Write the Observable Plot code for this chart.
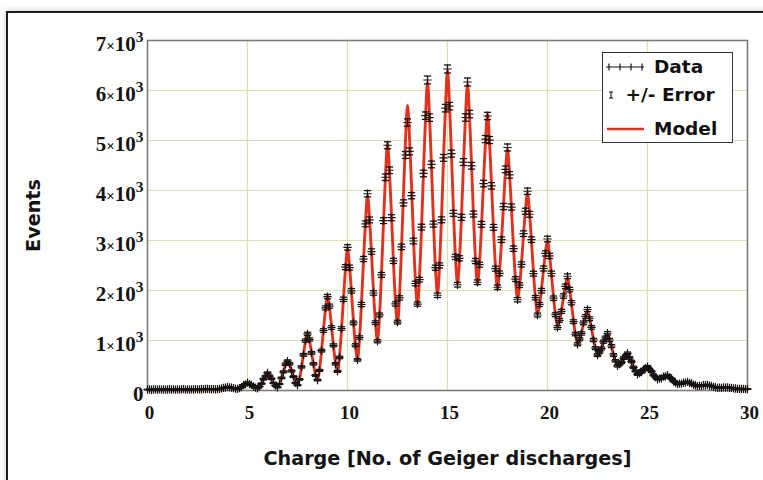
<!DOCTYPE html>
<html>
<head>
<meta charset="utf-8">
<script src="https://cdn.jsdelivr.net/npm/d3@7"></script>
<script src="https://cdn.jsdelivr.net/npm/@observablehq/plot@0.6"></script>
<style>
  html, body { margin: 0; padding: 0; background: #fff; overflow: hidden; }
  #wrap { position: relative; width: 763px; height: 480px; overflow: hidden; background: #fff; }
  #outer { position: absolute; left: 6px; top: 11px; width: 1000px; height: 1000px; border: 2px solid #1c1c1c; box-shadow: 0 0 7px rgba(0,0,0,0.22); background: #fff; }
  #chart { position: absolute; left: 0; top: 0; }
  #legend { position: absolute; left: 602px; top: 52px; width: 129px; height: 89px; border: 1.5px solid #333; background: #fff;
            font: bold 18.5px "DejaVu Sans", "Liberation Sans", Arial, sans-serif; color: #111; }
  #legend .t { position: absolute; line-height: 24px; white-space: nowrap; }
  #legend svg { position: absolute; overflow: visible; }
</style>
</head>
<body>
<div id="wrap">
  <div id="outer"></div>
  <div id="chart"></div>
  <div id="legend"></div>
</div>
<script>
// ---- Chart data (histogram bins of width 0.1, starting at charge 0) ----
const binStart = 0;
const binWidth = 0.1;

// Measured events per bin (Data)
const dataCounts = [
  18,22,15,20,24,17,21,19,23,16,
  20,25,18,22,17,24,19,21,26,18,
  22,19,24,20,26,21,23,25,28,30,
  31,27,25,29,24,26,31,41,54,59,
  74,61,57,46,38,33,49,68,107,124,
  156,126,111,80,57,44,80,137,227,285,
  352,289,235,149,96,64,130,252,373,525,
  588,533,391,277,152,106,222,472,712,998,
  1132,1021,752,534,301,209,402,798,1200,1652,
  1878,1687,1260,904,535,382,661,1240,1824,2467,
  2862,2457,1994,1352,905,612,1060,1720,2629,3332,
  3935,3412,2779,1950,1357,985,1511,2312,3397,4265,
  4905,4405,3457,2592,1731,1368,1851,2872,3752,4710,
  5360,4782,3896,2990,2140,1728,2216,3268,4341,5497,
  6210,5457,4521,3328,2456,1905,2502,3414,4652,5647,
  6430,5687,4737,3544,2672,2115,2644,3464,4569,5460,
  6170,5530,4494,3529,2589,2165,2516,3323,4139,5029,
  5490,5009,4094,3263,2436,2065,2343,3017,3679,4423,
  4860,4313,3669,2837,2228,1815,2106,2522,3137,3585,
  3985,3525,3017,2337,1856,1510,1721,1996,2440,2742,
  3030,2692,2340,1846,1516,1260,1404,1583,1890,2083,
  2285,2018,1755,1378,1129,925,1026,1142,1352,1480,
  1620,1435,1262,1010,846,708,771,840,977,1055,
  1145,1010,890,710,593,492,529,564,648,686,
  742,652,580,464,391,322,349,369,421,442,
  478,422,381,309,267,224,239,244,278,284,
  306,264,237,185,159,126,138,138,158,159,
  174,151,142,115,105,86,94,93,105,105,
  113,98,91,72,65,52,57,54,61,57,
  62,53,52,42,40,33,34,30,31,27,
  28
];

// +/- Error per bin
const dataErrors = [
  4,5,4,4,5,4,5,4,5,4,
  4,5,4,5,4,5,4,5,5,4,
  5,4,5,4,5,5,5,5,5,5,
  6,5,5,5,5,5,6,6,7,8,
  9,8,8,7,6,6,7,8,10,11,
  12,11,11,9,8,7,9,12,15,17,
  19,17,15,12,10,8,11,16,19,23,
  24,23,20,17,12,10,15,22,27,32,
  34,32,27,23,17,14,20,28,35,41,
  43,41,35,30,23,20,26,35,43,50,
  53,50,45,37,30,25,33,41,51,58,
  63,58,53,44,37,31,39,48,58,65,
  70,66,59,51,42,37,43,54,61,69,
  73,69,62,55,46,42,47,57,66,74,
  79,74,67,58,50,44,50,58,68,75,
  80,75,69,60,52,46,51,59,68,74,
  79,74,67,59,51,47,50,58,64,71,
  74,71,64,57,49,45,48,55,61,67,
  70,66,61,53,47,43,46,50,56,60,
  63,59,55,48,43,39,41,45,49,52,
  55,52,48,43,39,35,37,40,43,46,
  48,45,42,37,34,30,32,34,37,38,
  40,38,36,32,29,27,28,29,31,32,
  34,32,30,27,24,22,23,24,25,26,
  27,26,24,22,20,18,19,19,21,21,
  22,21,20,18,16,15,15,16,17,17,
  17,16,15,14,13,11,12,12,13,13,
  13,12,12,11,10,9,10,10,10,10,
  11,10,10,8,8,7,8,7,8,8,
  8,7,7,6,6,6,6,5,6,5,
  5
];

// Fitted model per bin (Model)
const modelCounts = [
  10,10,10,11,11,11,11,12,12,12,
  12,12,12,12,13,13,13,13,13,14,
  14,14,14,14,15,15,16,18,21,24,
  25,24,22,21,20,20,27,37,50,62,
  70,64,54,43,35,30,45,71,102,130,
  150,132,107,77,53,40,76,143,220,292,
  340,296,228,155,92,60,126,244,384,512,
  600,520,400,268,158,100,230,460,730,980,
  1150,1000,770,520,310,200,411,783,1221,1624,
  1900,1658,1289,885,547,370,676,1218,1852,2440,
  2840,2492,1956,1374,884,630,1037,1753,2593,3370,
  3900,3444,2741,1975,1333,1000,1486,2349,3364,4302,
  4940,4370,3500,2553,1758,1340,1878,2834,3956,4996,
  5700,5068,4100,3050,2166,1700,2245,3227,4383,5450,
  6170,5496,4475,3365,2429,1930,2475,3456,4613,5680,
  6400,5722,4697,3582,2643,2140,2618,3497,4534,5492,
  6130,5492,4534,3497,2618,2140,2542,3290,4174,4990,
  5530,4970,4134,3230,2462,2040,2366,2983,3714,4388,
  4830,4348,3634,2863,2206,1840,2081,2548,3107,3618,
  3950,3556,2983,2362,1833,1530,1697,2022,2413,2770,
  3000,2720,2313,1872,1497,1280,1384,1603,1868,2110,
  2260,2042,1732,1399,1112,940,1010,1157,1336,1498,
  1600,1454,1248,1025,834,720,760,852,966,1068,
  1130,1024,878,720,584,500,521,573,639,696,
  730,662,571,471,385,330,342,375,414,450,
  470,430,374,315,262,230,234,250,272,290,
  300,270,232,190,154,130,134,142,154,164,
  170,156,138,118,102,90,91,96,102,108,
  110,101,88,75,63,55,55,56,59,59,
  60,55,51,44,39,35,33,31,30,28,
  27
];

const xTicks = [0, 5, 10, 15, 20, 25, 30];
const yTicks = [0, 1000, 2000, 3000, 4000, 5000, 6000, 7000];
const xDomain = [0, 30];
const yDomain = [0, 7000];
const xTitle = "Charge [No. of Geiger discharges]";
const yTitle = "Events";
const legendLabels = ["Data", "+/- Error", "Model"];

// ---- Build tables ----
const binX = i => +(binStart + i * binWidth).toFixed(2);
const data = dataCounts.map((c, i) => ({x: binX(i), y: c, err: dataErrors[i]}));
const model = modelCounts.map((c, i) => ({x: binX(i), y: c}));

const RED = "#e0331f";
const INK = "#141414";
const GRID = "#dbe1b0";
const SANS = "'DejaVu Sans', 'Liberation Sans', Arial, sans-serif";

const hline = {
  draw(context, size) {
    const r = Math.sqrt(size / Math.PI);
    context.moveTo(-r, 0);
    context.lineTo(r, 0);
  }
};

const chart = Plot.plot({
  width: 763,
  height: 480,
  marginLeft: 147,
  marginRight: 16,
  marginTop: 40,
  marginBottom: 90,
  style: {fontFamily: "'Liberation Serif', 'Times New Roman', serif", fontSize: "19px", fontWeight: "bold", background: "transparent", color: INK},
  x: {domain: xDomain},
  y: {domain: yDomain},
  marks: [
    Plot.gridX({ticks: xTicks, stroke: GRID, strokeOpacity: 1, strokeWidth: 1.2}),
    Plot.gridY({ticks: yTicks, stroke: GRID, strokeOpacity: 1, strokeWidth: 1.2}),
    Plot.frame({stroke: "#7c7c7c", strokeWidth: 1.6}),
    Plot.line(model, {x: "x", y: "y", stroke: RED, strokeWidth: 2.9, curve: "monotone-x"}),
    Plot.ruleX(data, {x: "x", y1: d => d.y - d.err, y2: d => d.y + d.err, stroke: INK, strokeWidth: 1.1}),
    Plot.dot(data, {x: "x", y: d => d.y + d.err, symbol: hline, r: 3.6, stroke: INK, strokeWidth: 1.3}),
    Plot.dot(data, {x: "x", y: d => d.y - d.err, symbol: hline, r: 3.6, stroke: INK, strokeWidth: 1.3}),
    Plot.dot(data, {x: "x", y: "y", symbol: "plus", r: 2.8, stroke: INK, strokeWidth: 1.2}),
    Plot.axisX({ticks: xTicks, tickSize: 0, tickPadding: 15, label: null, dx: 2}),
    Plot.axisY({ticks: yTicks, tickSize: 0, tickPadding: 4, label: null, dy: 4,
      tickFormat: d => d === 0 ? "0" : `${d / 1000}×10|3`}),
    Plot.text([xTitle], {frameAnchor: "bottom", dy: 74, text: d => d, textAnchor: "middle",
      fontFamily: SANS, fontSize: 19.2, fontWeight: "bold", fill: INK}),
    Plot.text([yTitle], {frameAnchor: "left", dx: -114, rotate: -90, text: d => d, textAnchor: "middle",
      fontFamily: SANS, fontSize: 19.2, fontWeight: "bold", fill: INK})
  ]
});

// superscript exponents on y tick labels
const NS = "http://www.w3.org/2000/svg";
chart.querySelectorAll('g[aria-label="y-axis tick label"] text').forEach(t => {
  t.setAttribute("font-size", 21);
  t.style.fontSize = "21px";
  const s = t.textContent;
  if (!s.includes("|")) return;
  const [base, exp] = s.split("|");
  const [m, ten] = base.split("×");
  t.textContent = "";
  const parts = [[m, {}], ["×", {"font-size": 15}], [ten, {}], [exp, {"font-size": 15.5, dy: -9}]];
  for (const [txt, attrs] of parts) {
    const ts = document.createElementNS(NS, "tspan");
    ts.textContent = txt;
    for (const k in attrs) ts.setAttribute(k, attrs[k]);
    t.appendChild(ts);
  }
});

document.getElementById("chart").appendChild(chart);

// ---- Legend ----
const legend = document.getElementById("legend");
legend.innerHTML = `
  <svg style="left:2px;top:7.5px" width="40" height="12">
    <line x1="1" y1="6" x2="39" y2="6" stroke="${INK}" stroke-width="1.2"/>
    <line x1="4" y1="2.5" x2="4" y2="9.5" stroke="${INK}" stroke-width="1.2"/>
    <line x1="15" y1="2.5" x2="15" y2="9.5" stroke="${INK}" stroke-width="1.2"/>
    <line x1="26" y1="2.5" x2="26" y2="9.5" stroke="${INK}" stroke-width="1.2"/>
    <line x1="37" y1="2.5" x2="37" y2="9.5" stroke="${INK}" stroke-width="1.2"/>
  </svg>
  <div class="t" style="left:51px;top:1.5px">${legendLabels[0]}</div>
  <svg style="left:4px;top:35.5px" width="8" height="12">
    <line x1="4" y1="3" x2="4" y2="9" stroke="${INK}" stroke-width="1.1"/>
    <line x1="2" y1="3" x2="6" y2="3" stroke="${INK}" stroke-width="1.1"/>
    <line x1="2" y1="9" x2="6" y2="9" stroke="${INK}" stroke-width="1.1"/>
  </svg>
  <div class="t" style="left:22.5px;top:29.5px">${legendLabels[1]}</div>
  <svg style="left:4px;top:70.5px" width="38" height="10">
    <line x1="0" y1="5" x2="37" y2="5" stroke="${RED}" stroke-width="2.5"/>
  </svg>
  <div class="t" style="left:51px;top:63.5px">${legendLabels[2]}</div>
`;
</script>
</body>
</html>
